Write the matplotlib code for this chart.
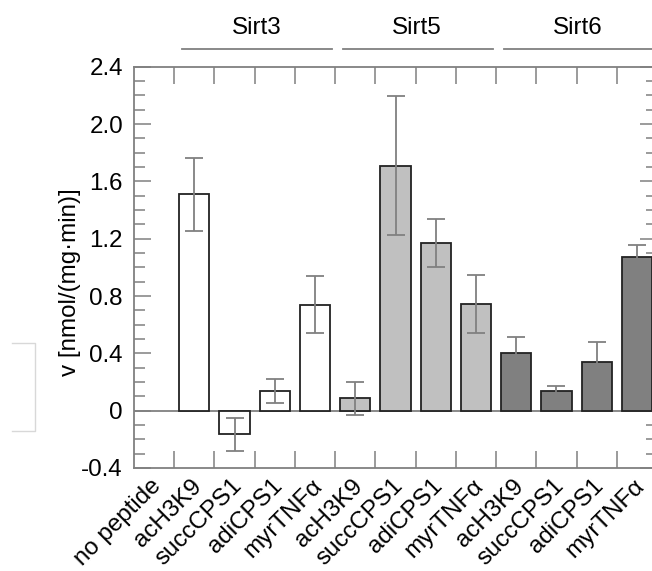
import numpy as np
import matplotlib.pyplot as plt
import matplotlib.transforms as mtransforms
from matplotlib.lines import Line2D
from matplotlib.ticker import MultipleLocator, FixedLocator

plt.rcParams['font.family'] = ['Liberation Sans', 'DejaVu Sans']

# datos
labels = ['no peptide', 'acH3K9', 'succCPS1', 'adiCPS1', 'myrTNFα',
          'acH3K9', 'succCPS1', 'adiCPS1', 'myrTNFα',
          'acH3K9', 'succCPS1', 'adiCPS1', 'myrTNFα']
values = [0.0, 1.51, -0.165, 0.14, 0.74,
          0.085, 1.71, 1.17, 0.745,
          0.40, 0.14, 0.34, 1.07]
errors = [0.0, 0.255, 0.115, 0.083, 0.20,
          0.115, 0.485, 0.17, 0.20,
          0.115, 0.03, 0.14, 0.085]
colors = ['white'] * 5 + ['#c0c0c0'] * 4 + ['#808080'] * 4
groups = ['Sirt3', 'Sirt5', 'Sirt6']
group_spans = [(0.5, 4.5), (4.5, 8.5), (8.5, 12.5)]
ytick_vals = [-0.4, 0, 0.4, 0.8, 1.2, 1.6, 2.0, 2.4]
ytick_labels = ['-0.4', '0', '0.4', '0.8', '1.2', '1.6', '2.0', '2.4']

grey = '#808080'
fs = 17.4

fig = plt.figure(figsize=(6.52, 5.71), dpi=100)
ax = fig.add_axes([134 / 652, 103 / 571, 523 / 652, 401.3 / 571])

x = np.arange(len(labels))
ax.bar(x[1:], values[1:], width=0.75, color=colors[1:], edgecolor='#222222',
       linewidth=1.3, zorder=2)
ax.errorbar(x[1:], values[1:], yerr=errors[1:], fmt='none', ecolor=grey,
            elinewidth=1.3, capsize=6.5, capthick=1.3, zorder=3)
ax.axhline(0, color=grey, linewidth=1.3, zorder=1)

ax.set_xlim(-0.5, 12.5)
ax.set_ylim(-0.4, 2.4)

# ticks en x: marcas en los bordes, etiquetas al centro
ax.xaxis.set_major_locator(FixedLocator(np.arange(0.5, 12, 1.0)))
ax.xaxis.set_minor_locator(FixedLocator(x))
ax.set_xticklabels([], minor=False)
ax.set_xticklabels(labels, minor=True, rotation=45, ha='right',
                   rotation_mode='anchor', fontsize=fs)
ax.tick_params(axis='x', which='major', direction='in', length=12, width=1.1,
               color=grey, top=True, bottom=True)
ax.tick_params(axis='x', which='minor', length=0, pad=5)
shift = mtransforms.ScaledTranslation(-4 / 100, 0, fig.dpi_scale_trans)
for t in ax.get_xticklabels(minor=True):
    t.set_transform(t.get_transform() + shift)

ax.set_yticks(ytick_vals)
ax.set_yticklabels(ytick_labels, fontsize=fs)
ax.yaxis.set_minor_locator(MultipleLocator(0.1))
ax.tick_params(axis='y', which='major', direction='in', length=12, width=1.1,
               color=grey, left=True, right=True, pad=8)
ax.tick_params(axis='y', which='minor', direction='in', length=8, width=1.1,
               color=grey, left=True, right=True)

for s in ax.spines.values():
    s.set_color(grey)
    s.set_linewidth(1.3)

ax.set_ylabel('v [nmol/(mg·min)]', fontsize=fs)
ax.yaxis.set_label_coords(-0.101, 0.4635)

# etiquetas de grupo arriba
tr = ax.get_xaxis_transform()
for name, (a, b) in zip(groups, group_spans):
    ax.add_line(Line2D([a + 0.2, b - 0.08], [1.0434, 1.0434], transform=tr,
                       color=grey, linewidth=1.3, clip_on=False))
    ax.text((a + b) / 2 + 0.04, 1.097, name, transform=tr, ha='center',
            va='center', fontsize=fs)

# recuadro gris claro a la izquierda
fig.add_artist(Line2D([12 / 652, 35 / 652, 35 / 652, 12 / 652],
                      [228 / 571, 228 / 571, 140 / 571, 140 / 571],
                      color='#d8d8d8', linewidth=1.0))

fig.savefig('out.png', dpi=100)
